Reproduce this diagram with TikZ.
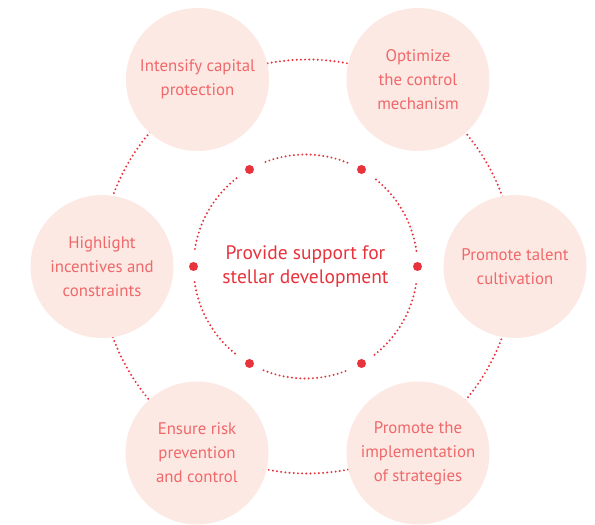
\documentclass[tikz,border=0pt]{standalone}
\usepackage{fontspec}
\setmainfont{PT Sans}
\usepackage{tikz}
\definecolor{petalfill}{RGB}{252,233,227}
\definecolor{petaltext}{RGB}{240,104,106}
\definecolor{corered}{RGB}{232,50,60}

\begin{document}
\begin{tikzpicture}
   [x=1pt,y=1pt,
    petal/.style={circle,fill=petalfill,minimum size=143pt,inner sep=0pt,align=center,
       text=petaltext,font=\fontsize{16.8}{24}\selectfont},
    ring/.style={draw=corered,line width=2.2pt,line cap=round,dash pattern=on 0pt off 4.2pt},
    bigdot/.style={circle,fill=corered,minimum size=9pt,inner sep=0pt}]
   \useasboundingbox (-307.5,-258.5) rectangle (287.5,266.5);
   \coordinate (o) at (0,0);
   \coordinate (mid) at (-2,0);

   \draw[ring] (o) circle (207);

   \node[petal] (capital) at (-110,187) {Intensify capital\\protection};
   \node[petal] (control) at (110.5,187) {Optimize\\the control\\mechanism};
   \node[petal] (talent) at (207.5,0) {Promote talent\\cultivation};
   \node[petal] (strategy) at (110.5,-186.5) {Promote the\\implementation\\of strategies};
   \node[petal] (risk) at (-110.5,-186.5) {Ensure risk\\prevention\\and control};
   \node[petal] (incentive) at (-205.5,0) {Highlight\\incentives and\\constraints};

   \node[align=center,text=corered,font=\fontsize{19.5}{23.5}\selectfont] (core) at (mid)
      {Provide support for\\stellar development};

   \foreach \a in {0,60,...,300} {
      \node[bigdot] (dot\a) at ([shift={(\a:112)}]mid) {};
      \draw[ring] ([shift={(\a+8:112)}]mid) arc [start angle=\a+8, end angle=\a+52, radius=112];
   }
\end{tikzpicture}
\end{document}
